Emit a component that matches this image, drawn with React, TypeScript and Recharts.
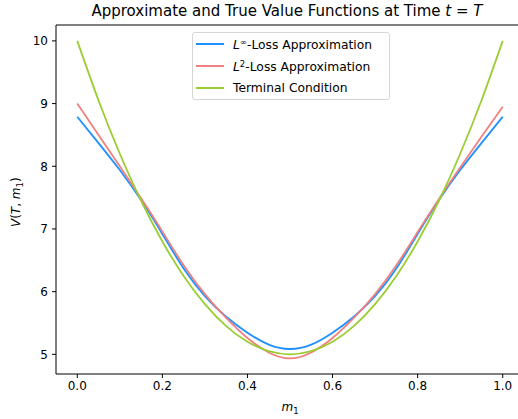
import React from 'react'
import { LineChart, Line, XAxis, YAxis, ReferenceArea, Legend } from 'recharts'

// m_1 grid and the three value functions
const m1 = [0, 0.05, 0.1, 0.15, 0.2, 0.25, 0.3, 0.35, 0.4, 0.45, 0.5, 0.55, 0.6, 0.65, 0.7, 0.75, 0.8, 0.85, 0.9, 0.95, 1.0]
const linfLoss = [8.79, 8.37, 7.94, 7.46, 6.92, 6.37, 5.93, 5.6, 5.345, 5.155, 5.085, 5.155, 5.345, 5.6, 5.93, 6.37, 6.92, 7.46, 7.94, 8.37, 8.79]
const l2Loss = [9.0, 8.5, 8.0, 7.49, 6.96, 6.42, 5.96, 5.58, 5.26, 5.03, 4.935, 5.03, 5.26, 5.58, 5.96, 6.42, 6.95, 7.48, 7.98, 8.47, 8.95]
const terminal = [10.0, 9.05, 8.2, 7.45, 6.8, 6.25, 5.8, 5.45, 5.2, 5.05, 5.0, 5.05, 5.2, 5.45, 5.8, 6.25, 6.8, 7.45, 8.2, 9.05, 10.0]

const xTicks = [0, 0.2, 0.4, 0.6, 0.8, 1.0]
const yTicks = [5, 6, 7, 8, 9, 10]
const xDomain = [-0.05, 1.05]
const yDomain = [4.6865, 10.2535]

const series = [
  { key: 'linf', color: '#1e90ff', sup: '∞' },
  { key: 'l2', color: '#f08080', sup: '2' },
  { key: 'terminal', color: '#9acd32', sup: '' },
]

const data = m1.map((m, i) => ({ m, linf: linfLoss[i], l2: l2Loss[i], terminal: terminal[i] }))

const font = '"DejaVu Sans", sans-serif'

function LegendBox() {
  return (
    <div
      style={{
        border: '1px solid #d6d6d6',
        borderRadius: 3,
        background: 'rgba(255,255,255,0.85)',
        padding: '0 6px 0 3px',
        fontFamily: font,
        fontSize: 12.3,
        color: '#000',
        width: 187,
      }}
    >
      {series.map((s) => (
        <div key={s.key} style={{ display: 'flex', alignItems: 'center', height: 22 }}>
          <span style={{ display: 'inline-block', width: 28, height: 2, background: s.color, marginRight: 9 }} />
          {s.sup ? (
            <span>
              <i>L</i>
              <sup style={{ fontSize: 8.5, verticalAlign: 4 }}>{s.sup}</sup>-Loss Approximation
            </span>
          ) : (
            <span>Terminal Condition</span>
          )}
        </div>
      ))}
    </div>
  )
}

export default function App() {
  return (
    <div
      style={{
        position: 'fixed',
        left: 0,
        top: 0,
        width: 518,
        height: 419,
        overflow: 'hidden',
        background: '#fff',
        fontFamily: font,
      }}
    >
      <div
        style={{
          position: 'absolute',
          left: 0,
          top: 0,
          width: 574,
          textAlign: 'center',
          fontSize: 15,
          lineHeight: '23px',
          color: '#000',
        }}
      >
        Approximate and True Value Functions at Time <i>t</i> = <i>T</i>
      </div>

      <LineChart width={530} height={419} data={data} margin={{ top: 25, right: 6, left: 0, bottom: 0 }}>
        <ReferenceArea
          x1={xDomain[0]}
          x2={xDomain[1]}
          y1={yDomain[0]}
          y2={yDomain[1]}
          fill="none"
          stroke="#000"
          strokeWidth={1}
          fillOpacity={0}
        />
        <XAxis
          dataKey="m"
          type="number"
          domain={xDomain}
          ticks={xTicks}
          tickFormatter={(v: number) => v.toFixed(1)}
          axisLine={false}
          tickLine={{ stroke: '#000' }}
          tickSize={4}
          tickMargin={3}
          height={45}
          tick={{ fill: '#000', fontSize: 12, fontFamily: font }}
          allowDataOverflow
        />
        <YAxis
          type="number"
          domain={yDomain}
          ticks={yTicks}
          axisLine={false}
          tickLine={{ stroke: '#000' }}
          tickSize={4}
          tickMargin={4}
          width={56}
          tick={{ fill: '#000', fontSize: 12, fontFamily: font }}
          allowDataOverflow
        />
        <Legend
          layout="vertical"
          align="center"
          verticalAlign="middle"
          content={() => <LegendBox />}
          wrapperStyle={{ top: 32, left: 192, width: 'auto' }}
        />
        {series.map((s) => (
          <Line
            key={s.key}
            type="natural"
            dataKey={s.key}
            stroke={s.color}
            strokeWidth={1.8}
            dot={false}
            isAnimationActive={false}
          />
        ))}
      </LineChart>

      <div
        style={{
          position: 'absolute',
          left: 260,
          width: 60,
          top: 398,
          textAlign: 'center',
          fontSize: 12,
          lineHeight: '18px',
          color: '#000',
        }}
      >
        <i>m</i>
        <sub style={{ fontSize: 8.5 }}>1</sub>
      </div>

      <div
        style={{
          position: 'absolute',
          left: 18 - 50,
          top: 200 - 9,
          width: 100,
          textAlign: 'center',
          fontSize: 12,
          lineHeight: '18px',
          color: '#000',
          transform: 'rotate(-90deg)',
        }}
      >
        <i>V</i>(<i>T</i>, <i>m</i>
        <sub style={{ fontSize: 8.5 }}>1</sub>)
      </div>
    </div>
  )
}
